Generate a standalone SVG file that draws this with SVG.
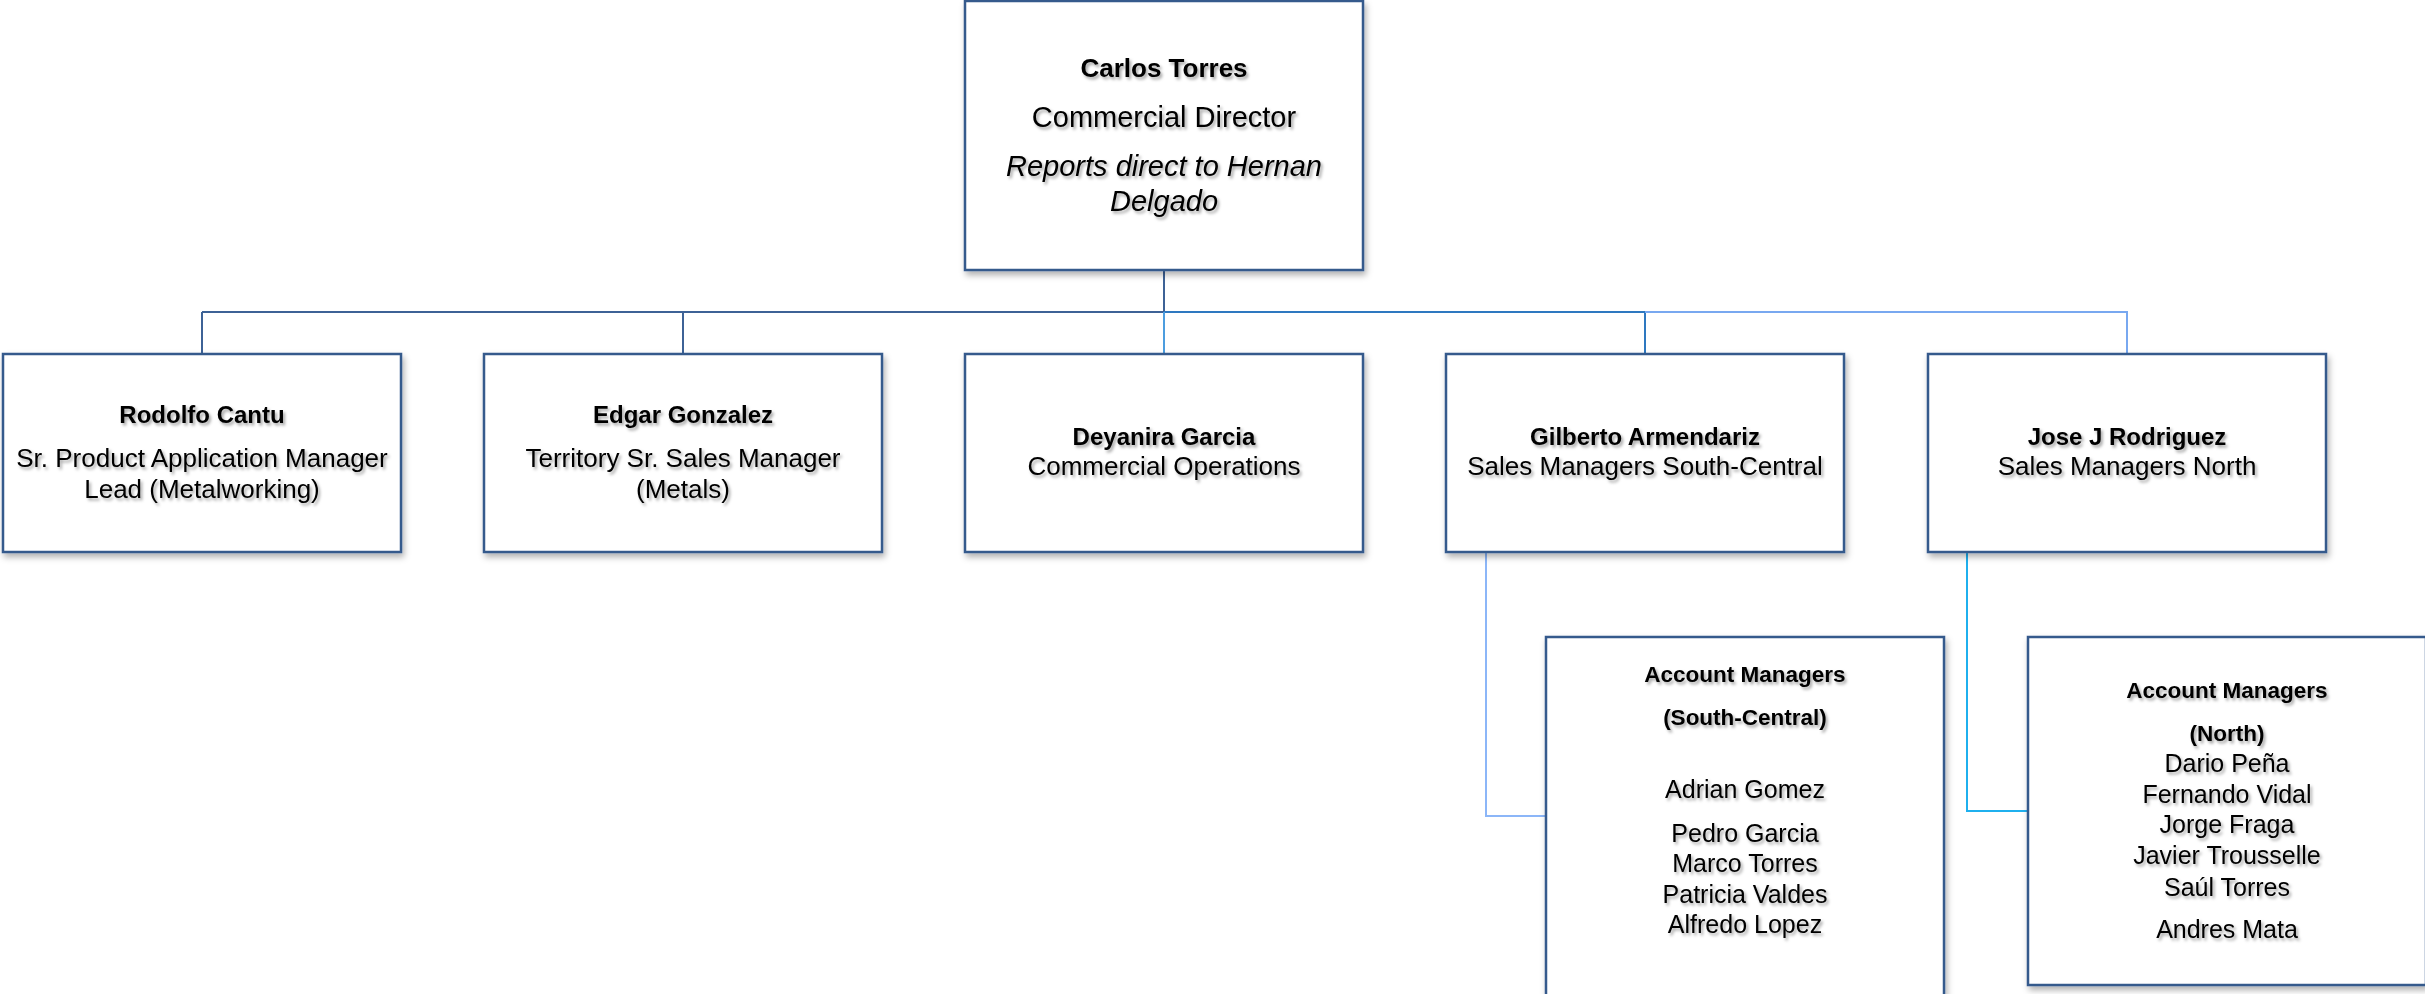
<svg xmlns="http://www.w3.org/2000/svg" width="2425" height="994" viewBox="0 0 2425 994">
<defs>
<filter id="boxsh" x="-5%" y="-5%" width="115%" height="115%">
<feDropShadow dx="2" dy="4" stdDeviation="3" flood-color="#000" flood-opacity="0.3"/>
</filter>
<filter id="txtsh" x="-5%" y="-20%" width="115%" height="160%">
<feDropShadow dx="2" dy="2.5" stdDeviation="1.6" flood-color="#000" flood-opacity="0.35"/>
</filter>
</defs>
<style>
.box{fill:#fff;stroke:#365a8c;stroke-width:2.5;filter:url(#boxsh)}
text{font-family:"Liberation Sans",Arial,sans-serif;fill:#000;text-anchor:middle;filter:url(#txtsh)}
.t1b{font-size:26px;font-weight:bold}
.t1{font-size:29px}
.t1i{font-size:29px;font-style:italic}
.t2b{font-size:24px;font-weight:bold}
.t2{font-size:26px}
.t3b{font-size:22.5px;font-weight:bold}
.t3{font-size:25px}
.c{fill:none;stroke-width:2}
</style>
<rect width="2425" height="994" fill="#fff"/>
<g id="connectors">
<path class="c" stroke="#3d6296" d="M1164,271 V312 M202,312 H1164 M202,312 V354 M683,312 V354"/>
<path class="c" stroke="#2e78c0" d="M1164,312 H1645 M1645,312 V354"/>
<path class="c" stroke="#4c9ddf" d="M1164,312 V354"/>
<path class="c" stroke="#78a8f0" d="M1645,312 H2127 V354"/>
<path class="c" stroke="#8cb6f8" d="M1486,553 V816 H1546"/>
<path class="c" stroke="#1fb0ee" d="M1967,553 V811 H2027"/>
</g>
<g id="carlos">
<rect class="box" x="965" y="1" width="398" height="269"/>
<text class="t1b" x="1164" y="77">Carlos Torres</text>
<text class="t1" x="1164" y="127">Commercial Director</text>
<text class="t1i" x="1164" y="176">Reports direct to Hernan</text>
<text class="t1i" x="1164" y="211">Delgado</text>
</g>
<g id="rodolfo">
<rect class="box" x="3" y="354" width="398" height="198"/>
<text class="t2b" x="202" y="423">Rodolfo Cantu</text>
<text class="t2" x="202" y="467">Sr. Product Application Manager</text>
<text class="t2" x="202" y="498">Lead (Metalworking)</text>
</g>
<g id="edgar">
<rect class="box" x="484" y="354" width="398" height="198"/>
<text class="t2b" x="683" y="423">Edgar Gonzalez</text>
<text class="t2" x="683" y="467">Territory Sr. Sales Manager</text>
<text class="t2" x="683" y="498">(Metals)</text>
</g>
<g id="deyanira">
<rect class="box" x="965" y="354" width="398" height="198"/>
<text class="t2b" x="1164" y="445">Deyanira Garcia</text>
<text class="t2" x="1164" y="475">Commercial Operations</text>
</g>
<g id="gilberto">
<rect class="box" x="1446" y="354" width="398" height="198"/>
<text class="t2b" x="1645" y="445">Gilberto Armendariz</text>
<text class="t2" x="1645" y="475">Sales Managers South-Central</text>
</g>
<g id="jose">
<rect class="box" x="1928" y="354" width="398" height="198"/>
<text class="t2b" x="2127" y="445">Jose J Rodriguez</text>
<text class="t2" x="2127" y="475">Sales Managers North</text>
</g>
<g id="am-south-central">
<rect class="box" x="1546" y="637" width="398" height="380"/>
<text class="t3b" x="1745" y="682">Account Managers</text>
<text class="t3b" x="1745" y="725">(South-Central)</text>
<text class="t3" x="1745" y="798">Adrian Gomez</text>
<text class="t3" x="1745" y="842">Pedro Garcia</text>
<text class="t3" x="1745" y="872">Marco Torres</text>
<text class="t3" x="1745" y="903">Patricia Valdes</text>
<text class="t3" x="1745" y="933">Alfredo Lopez</text>
</g>
<g id="am-north">
<rect class="box" x="2028" y="637" width="398" height="348"/>
<text class="t3b" x="2227" y="698">Account Managers</text>
<text class="t3b" x="2227" y="741">(North)</text>
<text class="t3" x="2227" y="772">Dario Peña</text>
<text class="t3" x="2227" y="803">Fernando Vidal</text>
<text class="t3" x="2227" y="833">Jorge Fraga</text>
<text class="t3" x="2227" y="864">Javier Trousselle</text>
<text class="t3" x="2227" y="896">Saúl Torres</text>
<text class="t3" x="2227" y="938">Andres Mata</text>
</g>
</svg>
